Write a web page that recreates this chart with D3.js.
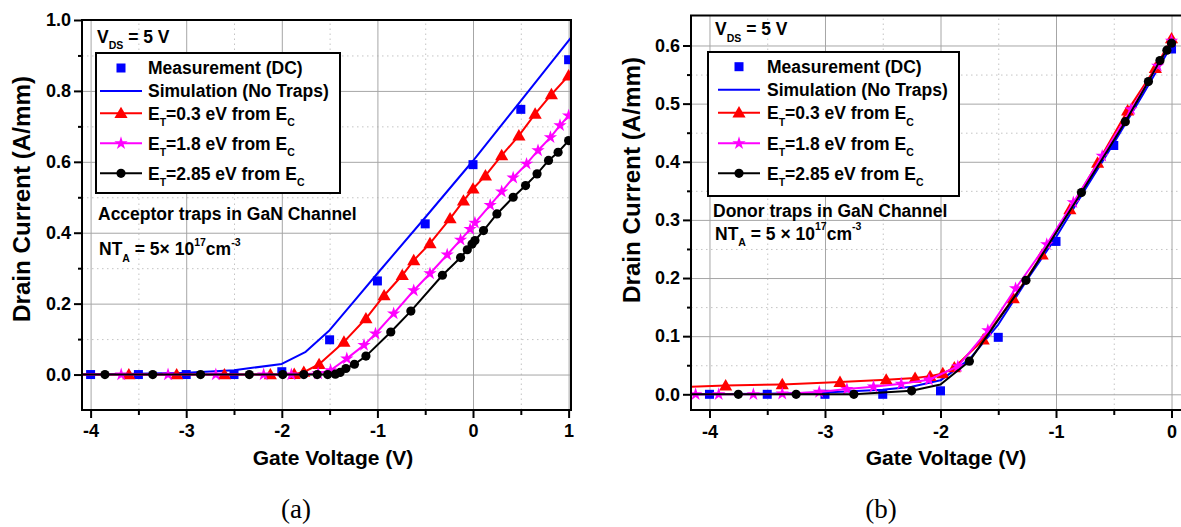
<!DOCTYPE html>
<html><head><meta charset="utf-8">
<script src="https://cdn.jsdelivr.net/npm/d3@7"></script>
<style>
body{margin:0;background:#fff}
svg{display:block}
text{font-family:Arial,"Liberation Sans",sans-serif;font-weight:bold;white-space:pre;fill:#000}
</style>
</head><body>
<svg id="c" width="1181" height="527"></svg>
<script>
// ---------- Panel (a): acceptor traps ----------
const measA_x = [-4, -3.5, -3, -2.5, -2, -1.5, -1, -0.5, 0, 0.5, 1];
const measA_y = [0, 0, 0, 0, 0.008, 0.098, 0.264, 0.425, 0.592, 0.748, 0.888];
const simA_x = [-4.09, -3.5, -3, -2.5, -2, -1.75, -1.5, -1.25, -1, -0.5, 0, 0.5, 1.025];
const simA_y = [0, 0.002, 0.005, 0.012, 0.03, 0.064, 0.125, 0.205, 0.285, 0.443, 0.603, 0.772, 0.95];
const e03A_x = [-4.09, -3.6, -3.1, -2.6, -2.12, -1.87, -1.77, -1.61, -1.35, -1.12, -0.93, -0.74, -0.62, -0.45, -0.24, -0.1, 0.0, 0.13, 0.3, 0.48, 0.65, 0.82, 1.0];
const e03A_y = [0, 0, 0, 0, 0, 0.001, 0.007, 0.029, 0.092, 0.158, 0.223, 0.28, 0.322, 0.37, 0.44, 0.49, 0.524, 0.561, 0.618, 0.674, 0.735, 0.79, 0.843];
const e18A_x = [-4.09, -3.68, -3.19, -2.69, -2.19, -1.9, -1.62, -1.49, -1.32, -1.14, -1.02, -0.83, -0.62, -0.45, -0.27, -0.13, -0.03, 0.02, 0.18, 0.3, 0.42, 0.56, 0.68, 0.81, 0.91, 1.0];
const e18A_y = [0, 0, 0, 0, 0, 0, 0.003, 0.012, 0.045, 0.083, 0.115, 0.172, 0.237, 0.285, 0.338, 0.38, 0.41, 0.428, 0.478, 0.516, 0.555, 0.594, 0.632, 0.669, 0.703, 0.73];
const e285A_x = [-4.09, -3.85, -3.35, -2.85, -2.34, -1.99, -1.77, -1.63, -1.52, -1.44, -1.39, -1.33, -1.24, -1.12, -0.86, -0.65, -0.32, -0.13, -0.06, -0.01, 0.02, 0.11, 0.25, 0.42, 0.55, 0.67, 0.79, 0.89, 1.0];
const e285A_y = [0, 0, 0, 0, 0, 0, 0, 0, 0, 0.001, 0.006, 0.017, 0.029, 0.052, 0.12, 0.179, 0.28, 0.33, 0.352, 0.368, 0.378, 0.406, 0.453, 0.5, 0.533, 0.566, 0.604, 0.627, 0.66];

// ---------- Panel (b): donor traps ----------
const measB_x = [-4, -3.5, -3, -2.5, -2, -1.5, -1, -0.5, 0];
const measB_y = [0, 0, 0, 0, 0.006, 0.098, 0.263, 0.428, 0.594];
const simB_x = [-4.16, -3.5, -3, -2.5, -2.25, -2, -1.75, -1.5, -1.25, -1, -0.75, -0.5, -0.25, 0];
const simB_y = [0, 0.001, 0.003, 0.008, 0.013, 0.024, 0.06, 0.12, 0.197, 0.27, 0.352, 0.432, 0.515, 0.6];
const e03B_x = [-4.16, -3.86, -3.37, -2.87, -2.47, -2.22, -2.09, -1.98, -1.88, -1.63, -1.37, -1.12, -0.88, -0.64, -0.38, -0.14, 0];
const e03B_y = [0.013, 0.015, 0.017, 0.021, 0.025, 0.028, 0.031, 0.036, 0.046, 0.094, 0.165, 0.24, 0.318, 0.398, 0.488, 0.561, 0.612];
const e18B_x = [-4.16, -4.12, -3.92, -3.62, -3.37, -3.05, -2.81, -2.58, -2.34, -2.1, -1.85, -1.59, -1.35, -1.08, -0.85, -0.6, -0.35, -0.12, 0];
const e18B_y = [0, 0, 0, 0, 0.001, 0.004, 0.009, 0.013, 0.018, 0.025, 0.048, 0.11, 0.182, 0.258, 0.33, 0.41, 0.49, 0.565, 0.608];
const e285B_lineX = [-4.16, -3.75, -3.25, -2.75, -2.25, -2, -1.75, -1.26, -0.78, -0.4, -0.2, -0.1, -0.04, 0];
const e285B_lineY = [0, 0, 0, 0, 0.006, 0.017, 0.057, 0.196, 0.347, 0.469, 0.538, 0.574, 0.592, 0.604];
const e285B_ptsX = [-3.75, -3.25, -2.75, -2.25, -1.75, -1.26, -0.78, -0.4, -0.2, -0.1, -0.04, 0];
const e285B_ptsY = [0, 0, 0, 0.006, 0.057, 0.196, 0.347, 0.469, 0.538, 0.574, 0.592, 0.604];

// ---------- ticks & texts ----------
const xMajorA = [-4, -3, -2, -1, 0, 1];
const xMinorA = [-3.5, -2.5, -1.5, -0.5, 0.5];
const yMajorA = [0, 0.2, 0.4, 0.6, 0.8, 1.0];
const yMinorA = [0.1, 0.3, 0.5, 0.7, 0.9];
const xMajorB = [-4, -3, -2, -1, 0];
const xMinorB = [-3.5, -2.5, -1.5, -0.5];
const yMajorB = [0, 0.1, 0.2, 0.3, 0.4, 0.5, 0.6];
const yMinorB = [0.05, 0.15, 0.25, 0.35, 0.45, 0.55];
const legendNames = ["Measurement (DC)", "Simulation (No Traps)", "E_{T}=0.3 eV from E_{C}", "E_{T}=1.8 eV from E_{C}", "E_{T}=2.85 eV from E_{C}"];
const xTitle = "Gate Voltage (V)";
const yTitle = "Drain Current (A/mm)";

const svg = d3.select("#c");
svg.append("rect").attr("width", 1181).attr("height", 527).attr("fill", "#fff");

function rich(sel, x, y, str, size) {
  const t = sel.append("text").attr("x", x).attr("y", y).attr("font-size", size);
  const parts = str.split(/(_\{[^}]*\}|\^\{[^}]*\})/).filter(s => s.length);
  let cur = 0;
  parts.forEach(p => {
    let txt = p, off = 0, fs = size;
    if (p.startsWith("_{")) { txt = p.slice(2, -1); off = size * 0.38; fs = size * 0.6; }
    else if (p.startsWith("^{")) { txt = p.slice(2, -1); off = -size * 0.52; fs = size * 0.6; }
    t.append("tspan").attr("dy", off - cur).attr("font-size", fs).text(txt);
    cur = off;
  });
  return t;
}

function zip(xs, ys) { return xs.map((v, i) => [v, ys[i]]); }

const COL = { blue: "#0000ff", red: "#ff0000", mag: "#ff00ff", black: "#000000" };

function marker(sel, type, color, cx, cy) {
  if (type === "square") {
    sel.append("rect").attr("x", cx - 4.5).attr("y", cy - 4.5).attr("width", 9).attr("height", 9).attr("fill", color);
  } else if (type === "tri") {
    sel.append("path").attr("d", d3.symbol(d3.symbolTriangle, 75)()).attr("transform", `translate(${cx},${cy + 1})`).attr("fill", color);
  } else if (type === "star") {
    sel.append("path").attr("d", d3.symbol(d3.symbolStar, 55)()).attr("transform", `translate(${cx},${cy})`).attr("fill", color);
  } else if (type === "circle") {
    sel.append("circle").attr("cx", cx).attr("cy", cy).attr("r", 4.6).attr("fill", color);
  }
}

function panel(cfg) {
  const g = svg.append("g");
  const x = d3.scaleLinear().domain(cfg.xDom).range([cfg.left, cfg.right]);
  const y = d3.scaleLinear().domain(cfg.yDom).range([cfg.bottom, cfg.top]);
  const W = cfg.right - cfg.left, H = cfg.bottom - cfg.top;
  const clipId = "clip" + cfg.id;
  svg.append("clipPath").attr("id", clipId).append("rect")
    .attr("x", cfg.left).attr("y", cfg.top).attr("width", W).attr("height", H);

  // grid
  const grid = g.append("g").attr("clip-path", `url(#${clipId})`);
  function gridLines(axis, tr, cls) {
    const a = grid.append("g").attr("transform", tr).call(axis);
    a.select(".domain").remove();
    a.selectAll("text").remove();
    a.selectAll("line").attr("stroke", cls === "major" ? "#a6a6a6" : "#c4c4c4")
      .attr("stroke-width", 1).attr("stroke-dasharray", cls === "major" ? null : "1.5,3.5");
  }
  gridLines(d3.axisBottom(x).tickValues(cfg.xMinor).tickSize(-H).tickFormat(""), `translate(0,${cfg.bottom})`, "minor");
  gridLines(d3.axisLeft(y).tickValues(cfg.yMinor).tickSize(-W).tickFormat(""), `translate(${cfg.left},0)`, "minor");
  gridLines(d3.axisBottom(x).tickValues(cfg.xMajor).tickSize(-H).tickFormat(""), `translate(0,${cfg.bottom})`, "major");
  gridLines(d3.axisLeft(y).tickValues(cfg.yMajor).tickSize(-W).tickFormat(""), `translate(${cfg.left},0)`, "major");

  // data
  const plot = g.append("g").attr("clip-path", `url(#${clipId})`);
  const line = d3.line().x(d => x(d[0])).y(d => y(d[1]));
  const x0 = cfg.xDom[0] + 0.03;
  // measurement squares first
  zip(cfg.meas[0], cfg.meas[1]).forEach(d => marker(plot, "square", COL.blue, x(d[0]), y(d[1])));
  cfg.series.forEach(s => {
    plot.append("path").attr("d", line(zip(s.lx, s.ly))).attr("fill", "none")
      .attr("stroke", s.color).attr("stroke-width", 2).attr("stroke-linejoin", "round");
    if (s.mark) {
      zip(s.px, s.py).filter(d => d[0] > x0).forEach(d => marker(plot, s.mark, s.color, x(d[0]), y(d[1])));
    }
  });

  // legend
  const L = cfg.legend;
  g.append("rect").attr("x", L.x).attr("y", L.y).attr("width", L.w).attr("height", L.h)
    .attr("fill", "#fff").attr("stroke", "#000").attr("stroke-width", 2);
  const legItems = [
    { mark: "square", color: COL.blue, line: false },
    { mark: null, color: COL.blue, line: true },
    { mark: "tri", color: COL.red, line: true },
    { mark: "star", color: COL.mag, line: true },
    { mark: "circle", color: COL.black, line: true }
  ];
  legItems.forEach((it, i) => {
    const cy = L.rows[i];
    if (it.line) g.append("line").attr("x1", L.sx - 21).attr("x2", L.sx + 21).attr("y1", cy).attr("y2", cy)
      .attr("stroke", it.color).attr("stroke-width", 2);
    if (it.mark) marker(g, it.mark, it.color, L.sx, cy);
    rich(g, L.tx, cy + 6.3, legendNames[i], 17.5);
  });

  // annotations
  cfg.notes.forEach(n => rich(g, n.x, n.y, n.t, 17.5));

  // frame
  g.append("rect").attr("x", cfg.left).attr("y", cfg.top).attr("width", W).attr("height", H)
    .attr("fill", "none").attr("stroke", "#000").attr("stroke-width", 2);

  // axes
  function styleAxis(a) {
    a.select(".domain").remove();
    a.selectAll("line").attr("stroke", "#000").attr("stroke-width", 2);
    a.selectAll("text").attr("font-size", 18).attr("font-family", "Arial, 'Liberation Sans', sans-serif").attr("font-weight", "bold");
  }
  const fmtY = d3.format(".1f");
  styleAxis(g.append("g").attr("transform", `translate(0,${cfg.bottom})`)
    .call(d3.axisBottom(x).tickValues(cfg.xMinor).tickSize(5).tickFormat("")));
  styleAxis(g.append("g").attr("transform", `translate(0,${cfg.bottom})`)
    .call(d3.axisBottom(x).tickValues(cfg.xMajor).tickSize(8).tickPadding(cfg.xPad).tickFormat(d => String(d))));
  styleAxis(g.append("g").attr("transform", `translate(${cfg.left},0)`)
    .call(d3.axisLeft(y).tickValues(cfg.yMinor).tickSize(4).tickFormat("")));
  styleAxis(g.append("g").attr("transform", `translate(${cfg.left},0)`)
    .call(d3.axisLeft(y).tickValues(cfg.yMajor).tickSize(8).tickPadding(3).tickFormat(fmtY)));

  // titles
  g.append("text").attr("x", cfg.xt[0]).attr("y", cfg.xt[1]).attr("text-anchor", "middle")
    .attr("font-size", 21).text(xTitle);
  g.append("text").attr("transform", `translate(${cfg.yt[0]},${cfg.yt[1]}) rotate(-90)`)
    .attr("text-anchor", "middle").attr("dominant-baseline", "central")
    .attr("font-size", 23).attr("textLength", 246).attr("lengthAdjust", "spacingAndGlyphs").text(yTitle);
  svg.append("text").attr("x", cfg.cap[0]).attr("y", cfg.cap[1]).attr("text-anchor", "middle")
    .style("font-family", "'Liberation Serif', 'Times New Roman', serif").style("font-weight", "normal")
    .attr("font-size", 27).text(cfg.cap[2]);
}

panel({
  id: "a", left: 82, right: 571, top: 20, bottom: 410,
  xDom: [-4.09, 1.025], yDom: [-0.1, 1.0],
  xMajor: xMajorA, xMinor: xMinorA, yMajor: yMajorA, yMinor: yMinorA, xPad: 6,
  meas: [measA_x, measA_y],
  series: [
    { lx: simA_x, ly: simA_y, color: COL.blue, mark: null },
    { lx: e03A_x, ly: e03A_y, px: e03A_x, py: e03A_y, color: COL.red, mark: "tri" },
    { lx: e18A_x, ly: e18A_y, px: e18A_x, py: e18A_y, color: COL.mag, mark: "star" },
    { lx: e285A_x, ly: e285A_y, px: e285A_x, py: e285A_y, color: COL.black, mark: "circle" }
  ],
  legend: { x: 96, y: 53, w: 244, h: 140, sx: 121, tx: 148, rows: [68, 91, 113.3, 143.3, 173.3] },
  notes: [
    { x: 97, y: 42.7, t: "V_{DS} = 5 V" },
    { x: 98, y: 219.5, t: "Acceptor traps in GaN Channel" },
    { x: 99, y: 255, t: "NT_{A} = 5× 10^{17}cm^{-3}" }
  ],
  xt: [333, 465], yt: [22, 199], cap: [296, 518, "(a)"]
});

panel({
  id: "b", left: 691, right: 1190, top: 15.5, bottom: 410,
  xDom: [-4.16, 0.16], yDom: [-0.027, 0.6516],
  xMajor: xMajorB, xMinor: xMinorB, yMajor: yMajorB, yMinor: yMinorB, xPad: 7,
  meas: [measB_x, measB_y],
  series: [
    { lx: simB_x, ly: simB_y, color: COL.blue, mark: null },
    { lx: e03B_x, ly: e03B_y, px: e03B_x, py: e03B_y, color: COL.red, mark: "tri" },
    { lx: e18B_x, ly: e18B_y, px: e18B_x, py: e18B_y, color: COL.mag, mark: "star" },
    { lx: e285B_lineX, ly: e285B_lineY, px: e285B_ptsX, py: e285B_ptsY, color: COL.black, mark: "circle" }
  ],
  legend: { x: 708, y: 52, w: 251, h: 144, sx: 739, tx: 767, rows: [66.7, 89.7, 112.7, 143.3, 173.3] },
  notes: [
    { x: 715, y: 35, t: "V_{DS} = 5 V" },
    { x: 713, y: 216.7, t: "Donor traps in GaN Channel" },
    { x: 715, y: 239.5, t: "NT_{A} = 5 × 10^{17}cm^{-3}" }
  ],
  xt: [946, 465], yt: [632, 180], cap: [881, 518, "(b)"]
});
</script>
</body></html>
